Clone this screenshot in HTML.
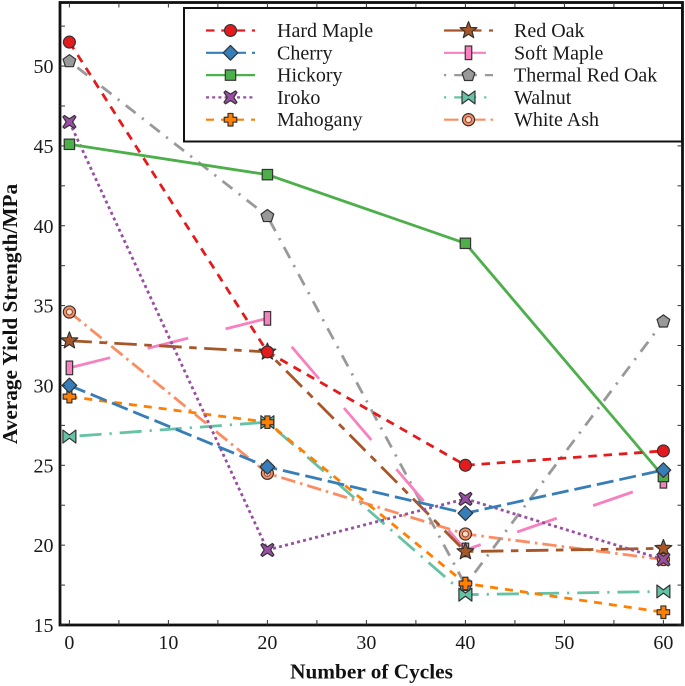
<!DOCTYPE html>
<html>
<head>
<meta charset="utf-8">
<style>
html,body{margin:0;padding:0;background:#fff;width:685px;height:686px;overflow:hidden}
svg{display:block;font-family:"Liberation Serif",serif;filter:blur(0.3px)}
</style>
</head>
<body>
<svg id="chart" width="685" height="686" viewBox="0 0 685 686" xmlns="http://www.w3.org/2000/svg">
<rect x="0" y="0" width="685" height="686" fill="#fff"/>
<g id="series-layer"></g>
<rect x="60" y="2.5" width="622.5" height="622.5" fill="none" stroke="#111" stroke-width="2.8"/>
<g id="tick-layer"></g>
<text x="371.5" y="678.5" text-anchor="middle" font-size="21.3" font-weight="bold" fill="#111">Number of Cycles</text>
<text transform="translate(17,314) rotate(-90)" text-anchor="middle" font-size="21.3" font-weight="bold" fill="#111">Average Yield Strength/MPa</text>
<g id="legend-layer"></g>
</svg>
<script>
var cycles = [0, 20, 40, 60];
var xTickLabels = [0, 10, 20, 30, 40, 50, 60];
var yTickLabels = [15, 20, 25, 30, 35, 40, 45, 50];
var seriesNames = ['Hard Maple', 'Cherry', 'Hickory', 'Iroko', 'Mahogany', 'Red Oak', 'Soft Maple', 'Thermal Red Oak', 'Walnut', 'White Ash'];
var hardMaple = [51.5, 32.1, 25.0, 25.9];
var cherry = [30.0, 24.9, 22.0, 24.7];
var hickory = [45.1, 43.2, 38.9, 24.3];
var iroko = [46.5, 19.7, 22.9, 19.1];
var mahogany = [29.3, 27.7, 17.6, 15.8];
var redOak = [32.8, 32.1, 19.6, 19.8];
var softMaple = [31.1, 34.2, 19.7, 24.0];
var thermalRedOak = [50.3, 40.6, 17.5, 34.0];
var walnut = [26.8, 27.7, 16.9, 17.1];
var whiteAsh = [34.6, 24.5, 20.7, 19.1];
var seriesValues = [hardMaple, cherry, hickory, iroko, mahogany, redOak, softMaple, thermalRedOak, walnut, whiteAsh];

var colors = ['#e41a1c', '#377eb8', '#4daf4a', '#984ea3', '#ff7f00', '#a65628', '#f781bf', '#999999', '#66c2a5', '#fc8d62'];
var dashes = ['8.5 6.8', '17 6', 'none', '3 3.2', '8 7', '22.5 7.5 7.5 7.5', '42 38.5', '2.2 8 12.5 8', '2.2 8 22 8', '14.5 5 2.5 5'];
var shapes = ['circle', 'diamond', 'square', 'cross', 'plus', 'star', 'bar', 'pentagon', 'bowtie', 'ring'];

var NS = 'http://www.w3.org/2000/svg';
var K = 1.08;
function x(v) { return 69.4 + v * 9.9; }
function y(v) { return 625 - (v - 15) * 15.97; }
function make(tag, attrs, parent) {
  var el = document.createElementNS(NS, tag);
  for (var k in attrs) el.setAttribute(k, attrs[k]);
  parent.appendChild(el);
  return el;
}
function slug(s) { return s.toLowerCase().replace(/ /g, '-'); }
function poly(pts, cx, cy) {
  return pts.map(function (p) { return (cx + p[0] * K) + ',' + (cy + p[1] * K); }).join(' ');
}
function regular(n, r, r2) {
  var out = [];
  var count = r2 ? n * 2 : n;
  for (var i = 0; i < count; i++) {
    var a = -Math.PI / 2 + i * 2 * Math.PI / count;
    var rad = (r2 && i % 2) ? r2 : r;
    out.push([rad * Math.cos(a), rad * Math.sin(a)]);
  }
  return out;
}
function marker(parent, shape, color, cx, cy) {
  var attrs = { fill: color, stroke: '#333', 'stroke-width': 1.2 };
  var el;
  if (shape === 'circle') {
    attrs.cx = cx; attrs.cy = cy; attrs.r = 5.5 * K;
    el = make('circle', attrs, parent);
  } else if (shape === 'ring') {
    attrs.cx = cx; attrs.cy = cy; attrs.r = 5.6 * K;
    el = make('circle', attrs, parent);
    make('circle', { cx: cx, cy: cy, r: 2.8 * K, fill: '#fdd9c8', stroke: '#7a4a35', 'stroke-width': 1 }, parent);
  } else if (shape === 'square') {
    attrs.x = cx - 4.8 * K; attrs.y = cy - 4.8 * K; attrs.width = 9.6 * K; attrs.height = 9.6 * K;
    el = make('rect', attrs, parent);
  } else if (shape === 'bar') {
    attrs.x = cx - 3 * K; attrs.y = cy - 6.3 * K; attrs.width = 6 * K; attrs.height = 12.6 * K;
    el = make('rect', attrs, parent);
  } else {
    var pts;
    if (shape === 'diamond') pts = [[0, -6.8], [6.8, 0], [0, 6.8], [-6.8, 0]];
    if (shape === 'cross') pts = [[-4.6, -6], [0, -3], [4.6, -6], [6, -4.6], [3, 0], [6, 4.6], [4.6, 6], [0, 3], [-4.6, 6], [-6, 4.6], [-3, 0], [-6, -4.6]];
    if (shape === 'plus') pts = [[-2.3, -5.8], [2.3, -5.8], [2.3, -2.3], [5.8, -2.3], [5.8, 2.3], [2.3, 2.3], [2.3, 5.8], [-2.3, 5.8], [-2.3, 2.3], [-5.8, 2.3], [-5.8, -2.3], [-2.3, -2.3]];
    if (shape === 'star') pts = regular(5, 8.2, 3.5);
    if (shape === 'pentagon') pts = regular(5, 6.2);
    if (shape === 'bowtie') pts = [[-6, -6], [0, -1.5], [6, -6], [6, 6], [0, 1.5], [-6, 6]];
    attrs.points = poly(pts, cx, cy);
    attrs['stroke-linejoin'] = 'round';
    el = make('polygon', attrs, parent);
  }
  return el;
}

var seriesLayer = document.getElementById('series-layer');
// drawn in reverse so Hard Maple ends up on top, as in the reference
for (var si = seriesNames.length - 1; si >= 0; si--) {
  var group = make('g', {}, seriesLayer);
  
  
  var pts = cycles.map(function (c, i) { return x(c) + ',' + y(seriesValues[si][i]); }).join(' ');
  var line = make('polyline', { points: pts, fill: 'none', stroke: colors[si], 'stroke-width': 2.8 }, group);
  if (dashes[si] !== 'none') line.setAttribute('stroke-dasharray', dashes[si]);
  
  
  for (var pi = 0; pi < cycles.length; pi++) {
    var m = marker(group, shapes[si], colors[si], x(cycles[pi]), y(seriesValues[si][pi]));
    
    
  }
}

var tickLayer = document.getElementById('tick-layer');
function tick(x1, y1, x2, y2) {
  var t = make('line', { x1: x1, y1: y1, x2: x2, y2: y2, stroke: '#333', 'stroke-width': 1 }, tickLayer);
  
  
}
for (var xv = 0; xv <= 60; xv += 5) {
  tick(x(xv), 625, x(xv), 620);
  tick(x(xv), 2.5, x(xv), 7.5);
}
for (var yv = 15; yv <= 52.5; yv += 2.5) {
  tick(60, y(yv), 65, y(yv));
  tick(682.5, y(yv), 677.5, y(yv));
}
xTickLabels.forEach(function (v) {
  var t = make('text', { x: x(v), y: 649, 'text-anchor': 'middle', 'font-size': 20, fill: '#1a1a1a' }, tickLayer);
  t.textContent = v;
  
  
});
yTickLabels.forEach(function (v) {
  var t = make('text', { x: 53.5, y: y(v) + 7, 'text-anchor': 'end', 'font-size': 20, fill: '#1a1a1a' }, tickLayer);
  t.textContent = v;
  
  
});

var legend = document.getElementById('legend-layer');
var box = make('rect', { x: 184, y: 8, width: 498, height: 133.5, fill: '#fff', stroke: '#111', 'stroke-width': 2 }, legend);


seriesNames.forEach(function (name, i) {
  var col = i < 5 ? 0 : 1;
  var row = i % 5;
  var hx = col ? 444 : 206;
  var ty = 30.5 + row * 22.3;
  var entry = make('g', {}, legend);
  
  
  var l = make('line', { x1: hx, y1: ty, x2: hx + 49, y2: ty, stroke: colors[i], 'stroke-width': 2.2 }, entry);
  if (dashes[i] !== 'none') l.setAttribute('stroke-dasharray', dashes[i]);
  marker(entry, shapes[i], colors[i], hx + 24.5, ty);
  var t = make('text', { x: col ? 514 : 277, y: ty + 6.5, 'font-size': 20, fill: '#1a1a1a' }, entry);
  t.textContent = name;
});
</script>
</body>
</html>
